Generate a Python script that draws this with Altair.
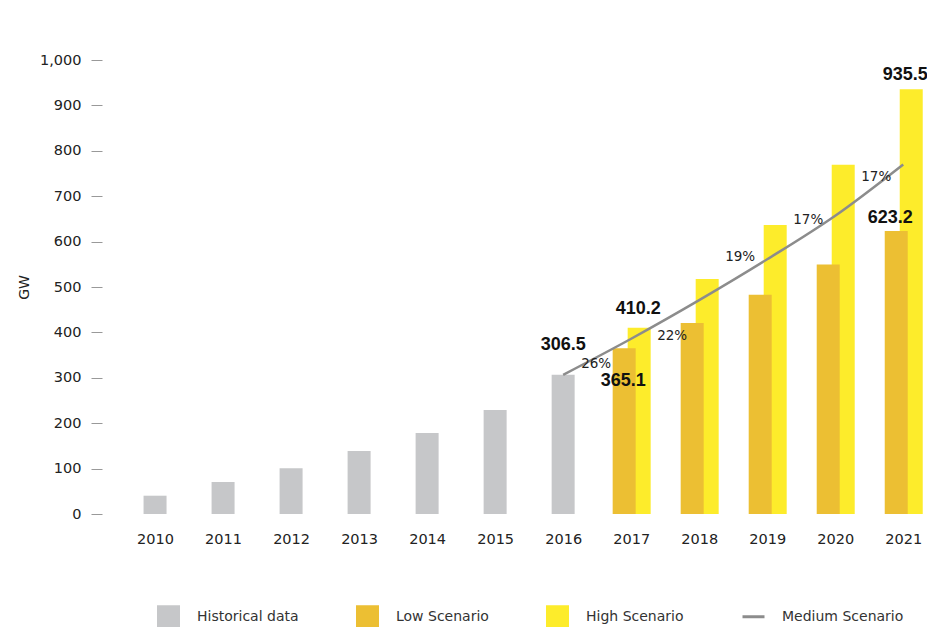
import altair as alt
import pandas as pd

# ---------------- data ----------------
hist_years = [2010, 2011, 2012, 2013, 2014, 2015, 2016]
hist_values = [40.3, 70.5, 100.9, 138.9, 178.4, 229.0, 306.5]

fc_years = [2017, 2018, 2019, 2020, 2021]
low_values = [365.1, 420.5, 483.0, 549.5, 623.2]
high_values = [410.2, 517.5, 636.5, 769.0, 935.5]

medium_years = [2016, 2017, 2018, 2019, 2020, 2021]
medium_values = [306.5, 386.0, 471.0, 561.0, 657.0, 770.0]
growth_labels = ["26%", "22%", "19%", "17%", "17%"]

series_names = ["Historical data", "Low Scenario", "High Scenario", "Medium Scenario"]
series_colors = ["#c6c7c9", "#ecbf33", "#fdec2b", "#8c8c8c"]
# last symbol: a horizontal stroke whose bounds span the full unit square
series_shapes = ["square", "square", "square", "M-1,-1M-1.1,0L1.1,0M1,1"]

x_ticks = hist_years + fc_years
y_ticks = [0, 100, 200, 300, 400, 500, 600, 700, 800, 900, 1000]

FONT = "DejaVu Sans"
VFONT = "Liberation Sans"
TEXT = "#222222"

# ---------------- tables ----------------
hist_df = pd.DataFrame({"year": hist_years, "value": hist_values})
low_df = pd.DataFrame({"year": fc_years, "value": low_values})
high_df = pd.DataFrame({"year": fc_years, "value": high_values})
med_df = pd.DataFrame({"year": medium_years, "value": medium_values})
growth_df = pd.DataFrame({
    "year": [(a + b) / 2 for a, b in zip(medium_years[:-1], medium_years[1:])],
    "value": [(a + b) / 2 for a, b in zip(medium_values[:-1], medium_values[1:])],
    "label": growth_labels,
})
legend_df = pd.DataFrame({"series": series_names})

x_enc = alt.X(
    "year:Q",
    scale=alt.Scale(domain=[2009.22, 2021.32], nice=False, zero=False, padding=0),
    axis=alt.Axis(values=x_ticks, format="d", title=None, domain=False, ticks=False,
                  grid=False, labelPadding=18, labelFontSize=14.5, labelColor=TEXT,
                  labelFont=FONT),
)
y_enc = alt.Y(
    "value:Q",
    scale=alt.Scale(domain=[0, 1000], nice=False, padding=0),
    axis=alt.Axis(values=y_ticks, format=",d", title="GW", titleFont=FONT,
                  titleFontSize=14, titleFontWeight="normal", titleColor=TEXT,
                  titlePadding=8, domain=False, grid=False, tickSize=11,
                  tickColor="#999999", tickWidth=1, labelPadding=10,
                  labelFontSize=14.5, labelColor=TEXT, labelFont=FONT),
)

hist_bars = alt.Chart(hist_df).mark_bar(size=23, color=series_colors[0]).encode(x=x_enc, y=y_enc)
high_bars = alt.Chart(high_df).mark_bar(size=23, color=series_colors[2], xOffset=8).encode(x=x_enc, y=y_enc)
low_bars = alt.Chart(low_df).mark_bar(size=23, color=series_colors[1], xOffset=-7).encode(x=x_enc, y=y_enc)
med_line = alt.Chart(med_df).mark_line(color=series_colors[3], strokeWidth=2.5,
                                       interpolate="monotone").encode(x=x_enc, y=y_enc)

txt = dict(font=VFONT, fontSize=18, fontWeight="bold", color="#111111",
           baseline="middle", align="center")

lab_hist = alt.Chart(hist_df.tail(1)).mark_text(dy=-30, **txt).encode(
    x=x_enc, y=y_enc, text=alt.Text("value:Q", format=".1f"))
lab_high_first = alt.Chart(high_df.head(1)).mark_text(dx=7, dy=-19, **txt).encode(
    x=x_enc, y=y_enc, text=alt.Text("value:Q", format=".1f"))
lab_low_first = alt.Chart(low_df.head(1)).mark_text(dx=-8, dy=33, **txt).encode(
    x=x_enc, y=y_enc, text=alt.Text("value:Q", format=".1f"))
lab_high_last = alt.Chart(high_df.tail(1)).mark_text(dx=2, dy=-14, **txt).encode(
    x=x_enc, y=y_enc, text=alt.Text("value:Q", format=".1f"))
lab_low_last = alt.Chart(low_df.tail(1)).mark_text(dx=-13, dy=-13, **txt).encode(
    x=x_enc, y=y_enc, text=alt.Text("value:Q", format=".1f"))

# growth-rate annotations, nudged off the medium line
gtxt = dict(font=FONT, fontSize=13.5, color=TEXT, baseline="middle", align="center")
growth_nudges = [(-1, 7), (7, 17), (7, -23), (7, -18), (7, -13)]
growth_layers = [
    alt.Chart(growth_df.iloc[[i]]).mark_text(dx=ddx, dy=ddy, **gtxt).encode(
        x=x_enc, y=y_enc, text="label:N")
    for i, (ddx, ddy) in enumerate(growth_nudges)
]

legend_layer = alt.Chart(legend_df).mark_point(filled=True, opacity=1).encode(
    fill=alt.Fill("series:N", scale=alt.Scale(domain=series_names, range=series_colors),
                  legend=alt.Legend(title=None)),
    stroke=alt.Stroke("series:N", scale=alt.Scale(domain=series_names, range=series_colors),
                      legend=alt.Legend(title=None)),
    shape=alt.Shape("series:N", scale=alt.Scale(domain=series_names, range=series_shapes),
                    legend=alt.Legend(title=None)),
).transform_filter("false")

chart = alt.layer(
    hist_bars, high_bars, low_bars, med_line,
    *growth_layers,
    lab_hist, lab_high_first, lab_low_first, lab_high_last, lab_low_last,
    legend_layer,
).properties(
    width=823, height=454,
    autosize=alt.AutoSizeParams(type="none"),
    padding={"left": 94, "top": 52, "right": 2, "bottom": 113},
).configure_view(stroke=None).configure_legend(
    orient="none", legendX=55, legendY=545, direction="horizontal",
    symbolSize=400, symbolStrokeWidth=3, labelFont=FONT, labelFontSize=14,
    labelColor="#333333", labelOffset=17, columnPadding=52, symbolType="square",
    symbolOpacity=1,
)

chart.save("out.html", embed_options={"renderer": "svg", "actions": False})
